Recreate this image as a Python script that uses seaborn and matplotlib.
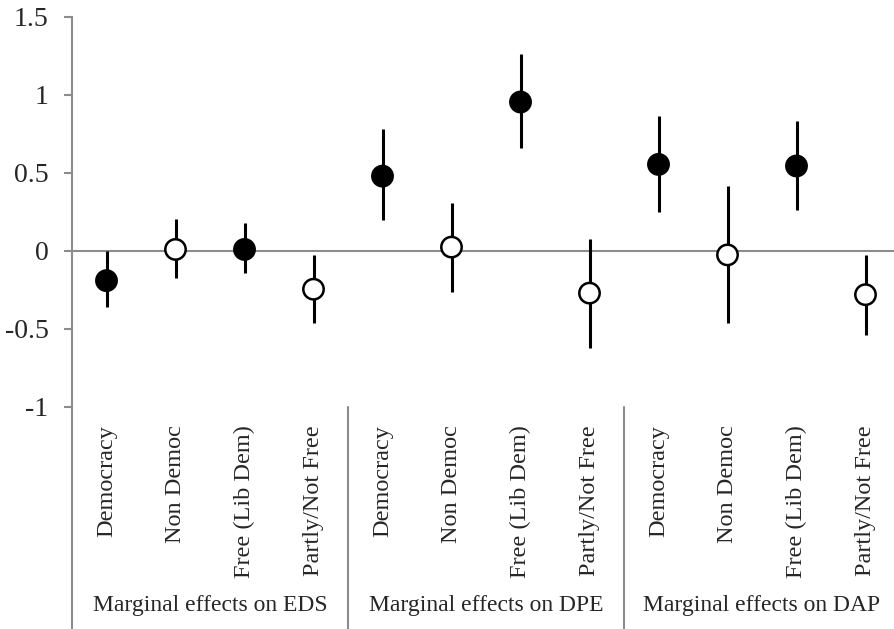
import matplotlib
matplotlib.use("Agg")
import matplotlib.pyplot as plt
import seaborn as sns
import pandas as pd
import numpy as np

# Donnees
groups = ["Marginal effects on EDS", "Marginal effects on DPE", "Marginal effects on DAP"]
regimes = ["Democracy", "Non Democ", "Free (Lib Dem)", "Partly/Not Free"]
filled = [True, False, True, False]

eds_est = [-0.19, 0.01, 0.01, -0.245]
eds_lo = [-0.36, -0.17, -0.14, -0.46]
eds_hi = [0.0, 0.205, 0.18, -0.025]

dpe_est = [0.48, 0.025, 0.955, -0.27]
dpe_lo = [0.2, -0.26, 0.66, -0.62]
dpe_hi = [0.78, 0.31, 1.26, 0.075]

dap_est = [0.555, -0.025, 0.545, -0.28]
dap_lo = [0.25, -0.46, 0.26, -0.54]
dap_hi = [0.865, 0.415, 0.835, -0.025]

yticks = [-1, -0.5, 0, 0.5, 1, 1.5]
ytick_labels = ["-1", "-0.5", "0", "0.5", "1", "1.5"]

# Table longue
rows = []
for g, est, lo, hi in zip(groups, [eds_est, dpe_est, dap_est],
                          [eds_lo, dpe_lo, dap_lo], [eds_hi, dpe_hi, dap_hi]):
    for r, e, l, h, f in zip(regimes, est, lo, hi, filled):
        rows.append({"group": g, "regime": r, "est": e, "lo": l, "hi": h,
                     "fill": "filled" if f else "open"})
df = pd.DataFrame(rows)
df["pos"] = np.arange(len(df))

sns.set_style("white")
plt.rcParams["font.family"] = ["Liberation Serif", "DejaVu Serif"]

fig = plt.figure(figsize=(8.94, 6.29), dpi=100)
ax = fig.add_axes([72 / 894, 222 / 629, 828 / 894, 390 / 629])

gray = "#8c8c8c"
ax.axhline(0, color=gray, lw=1.5, zorder=1)
ax.vlines(df["pos"], df["lo"], df["hi"], color="black", lw=2.2, zorder=2)
sns.scatterplot(data=df, x="pos", y="est", hue="fill",
                palette={"filled": "black", "open": "white"},
                edgecolor="black", linewidth=1.8, s=215, legend=False,
                zorder=3, ax=ax)

ax.set_xlim(-0.5, len(df) - 0.5)
ax.set_ylim(-1, 1.5)
ax.set_yticks(yticks)
ax.set_yticklabels(ytick_labels, fontsize=20)
ax.set_xticks(df["pos"])
ax.set_xticklabels(df["regime"], rotation=90, fontsize=17.5)
ax.tick_params(axis="x", length=0, pad=13)
ax.tick_params(axis="y", length=6, width=1.5, color=gray, pad=11, left=True)
ax.set_xlabel("")
ax.set_ylabel("")

for side in ["top", "right", "bottom"]:
    ax.spines[side].set_visible(False)
ax.spines["left"].set_color(gray)
ax.spines["left"].set_linewidth(1.5)

# Separateurs et libelles de groupes sous l'axe
trans = ax.get_xaxis_transform()
n = len(regimes)
for i in range(len(groups) + 1):
    xs = i * n - 0.5
    ax.plot([xs, xs], [0, -0.6], color=gray, lw=1.5, transform=trans, clip_on=False)
for i, g in enumerate(groups):
    ax.text(i * n + (n - 1) / 2, -0.508, g, transform=trans, ha="center",
            va="center", fontsize=17)

fig.savefig("out.png", dpi=100)
